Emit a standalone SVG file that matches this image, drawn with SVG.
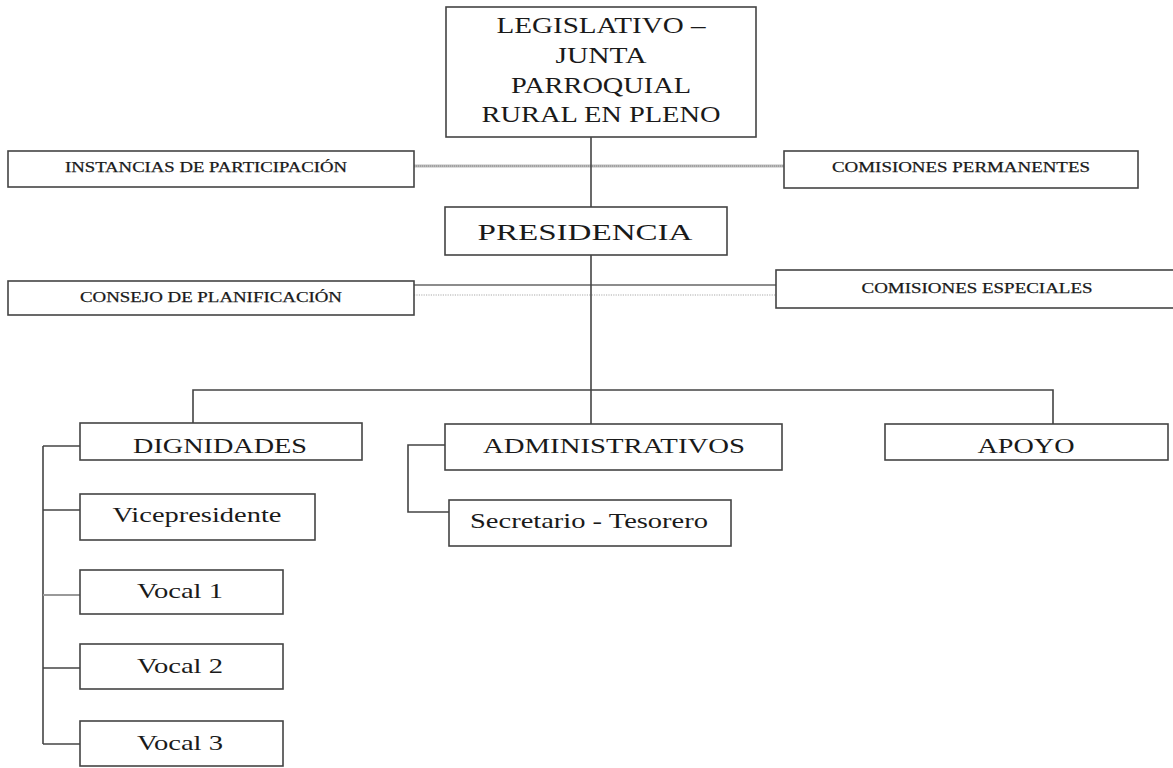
<svg xmlns="http://www.w3.org/2000/svg" width="1173" height="768" viewBox="0 0 1173 768">
<style>
.box{fill:#fff;stroke:#444;stroke-width:1.6}
.t{font-family:"Liberation Serif","Times New Roman",serif;fill:#1a1a1a;text-anchor:middle}
.big{font-size:24px}
.med{font-size:22px}
.sm{font-size:15px;stroke:#1a1a1a;stroke-width:0.25}
.ln{fill:none;stroke:#444;stroke-width:1.6}
.ln2{fill:none;stroke:#666;stroke-width:1.6}
.dotband{fill:none;stroke:#bbb;stroke-width:3}
.dots{fill:none;stroke:#888;stroke-width:1;stroke-dasharray:1 1}
.dotted{fill:none;stroke:#aaa;stroke-width:1.2;stroke-dasharray:1.2 1.2}
</style>
<rect width="1173" height="768" fill="#fff"/>
<g id="connectors">
<line class="dotband" x1="414" y1="166" x2="784" y2="166"/>
<line class="dots" x1="414" y1="166" x2="784" y2="166"/>
<line class="ln2" x1="414" y1="285" x2="776" y2="285"/>
<line class="dotted" x1="414" y1="295" x2="776" y2="295"/>
<line class="ln" x1="591" y1="137" x2="591" y2="207"/>
<line class="ln" x1="591" y1="255" x2="591" y2="424"/>
<polyline class="ln" points="193,423 193,390 1053,390 1053,424"/>
<line class="ln" x1="43" y1="446" x2="43" y2="744"/>
<line class="ln" x1="43" y1="446" x2="80" y2="446"/>
<line class="ln" x1="43" y1="510" x2="80" y2="510"/>
<line class="ln2" x1="43" y1="595" x2="80" y2="595" style="stroke-width:2.2;stroke:#999"/>
<line class="ln" x1="43" y1="668" x2="80" y2="668"/>
<line class="ln" x1="43" y1="744" x2="80" y2="744"/>
<polyline class="ln" points="445,445 408,445 408,512 449,512"/>
</g>
<g id="legislativo">
<rect class="box" x="446" y="7" width="310" height="130"/>
<text class="t big" x="601" y="33" textLength="209" lengthAdjust="spacingAndGlyphs">LEGISLATIVO –</text>
<text class="t big" x="601" y="63" textLength="91" lengthAdjust="spacingAndGlyphs">JUNTA</text>
<text class="t big" x="601" y="93" textLength="180" lengthAdjust="spacingAndGlyphs">PARROQUIAL</text>
<text class="t big" x="601" y="122" textLength="239" lengthAdjust="spacingAndGlyphs">RURAL EN PLENO</text>
</g>
<g id="instancias">
<rect class="box" x="8" y="151" width="406" height="36"/>
<text class="t sm" x="206" y="172" textLength="282" lengthAdjust="spacingAndGlyphs">INSTANCIAS DE PARTICIPACIÓN</text>
</g>
<g id="comisiones-permanentes">
<rect class="box" x="784" y="151" width="354" height="37"/>
<text class="t sm" x="961" y="172" textLength="258" lengthAdjust="spacingAndGlyphs">COMISIONES PERMANENTES</text>
</g>
<g id="presidencia">
<rect class="box" x="445" y="207" width="282" height="48"/>
<text class="t big" x="585" y="240" textLength="215" lengthAdjust="spacingAndGlyphs">PRESIDENCIA</text>
</g>
<g id="consejo">
<rect class="box" x="8" y="281" width="406" height="34"/>
<text class="t sm" x="211" y="302" textLength="262" lengthAdjust="spacingAndGlyphs">CONSEJO DE PLANIFICACIÓN</text>
</g>
<g id="comisiones-especiales">
<rect class="box" x="776" y="270" width="400" height="38"/>
<text class="t sm" x="977" y="293" textLength="231" lengthAdjust="spacingAndGlyphs">COMISIONES ESPECIALES</text>
</g>
<g id="dignidades">
<rect class="box" x="80" y="423" width="282" height="37"/>
<text class="t med" x="220" y="453" textLength="174" lengthAdjust="spacingAndGlyphs">DIGNIDADES</text>
</g>
<g id="administrativos">
<rect class="box" x="445" y="424" width="337" height="46"/>
<text class="t med" x="614" y="453" textLength="262" lengthAdjust="spacingAndGlyphs">ADMINISTRATIVOS</text>
</g>
<g id="apoyo">
<rect class="box" x="885" y="424" width="283" height="36"/>
<text class="t med" x="1026" y="453" textLength="97" lengthAdjust="spacingAndGlyphs">APOYO</text>
</g>
<g id="secretario">
<rect class="box" x="449" y="500" width="282" height="46"/>
<text class="t med" x="589" y="528" textLength="238" lengthAdjust="spacingAndGlyphs">Secretario - Tesorero</text>
</g>
<g id="vicepresidente">
<rect class="box" x="80" y="494" width="235" height="46"/>
<text class="t med" x="197" y="522" textLength="169" lengthAdjust="spacingAndGlyphs">Vicepresidente</text>
</g>
<g id="vocal1">
<rect class="box" x="80" y="570" width="203" height="44"/>
<text class="t med" x="180" y="598" textLength="86" lengthAdjust="spacingAndGlyphs">Vocal 1</text>
</g>
<g id="vocal2">
<rect class="box" x="80" y="644" width="203" height="45"/>
<text class="t med" x="180" y="673" textLength="86" lengthAdjust="spacingAndGlyphs">Vocal 2</text>
</g>
<g id="vocal3">
<rect class="box" x="80" y="721" width="203" height="45"/>
<text class="t med" x="180" y="750" textLength="86" lengthAdjust="spacingAndGlyphs">Vocal 3</text>
</g>
</svg>
